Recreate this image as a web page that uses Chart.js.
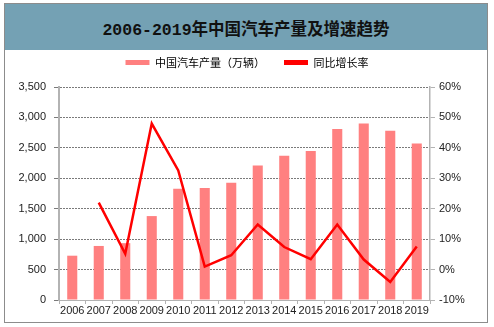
<!DOCTYPE html>
<html lang="zh">
<head>
<meta charset="UTF-8" />
<title>2006-2019年中国汽车产量及增速趋势</title>
<script src="https://cdn.jsdelivr.net/npm/chart.js"></script>
<style>
  html, body { margin: 0; padding: 0; background: #fff; }
  body { width: 494px; height: 327px; position: relative; overflow: hidden; }
  .frame {
    position: absolute; left: 4px; top: 3px; width: 482px; height: 318px;
    border: 1px solid #8c8c8c;
  }
  .header {
    position: absolute; left: 5px; top: 4px; width: 482px; height: 46px;
    background: #74a1b4;
    font: bold 16.5px "Liberation Mono", "Noto Sans CJK SC", sans-serif;
    color: #111; text-align: center; line-height: 54px;
  }
  #wrap { position: absolute; left: 0; top: 0; width: 494px; height: 327px; }
</style>
</head>
<body>
<div class="frame"></div>
<div class="header">2006-2019年中国汽车产量及增速趋势</div>
<div id="wrap"><canvas id="chart"></canvas></div>

<script>
  const years = ['2006','2007','2008','2009','2010','2011','2012','2013','2014','2015','2016','2017','2018','2019'];
  // 中国汽车产量（万辆）
  const output = [728, 888, 934, 1379, 1826, 1841, 1927, 2211, 2372, 2450, 2811, 2901, 2781, 2572];
  // 同比增长率 (%)
  const growth = [null, 22.0, 5.2, 48.0, 32.6, 1.0, 4.7, 14.8, 7.4, 3.4, 14.8, 3.3, -4.1, 7.6];

  const tickFont = { family: 'Arial, "Liberation Sans", sans-serif', size: 11 };
  const gridGray = '#7a7a7a';
  const axisGray = '#b3b3b3';

  // extra room under the legend
  const legendGap = {
    id: 'legendGap',
    beforeInit(chart) {
      const fit = chart.legend.fit;
      chart.legend.fit = function () {
        fit.call(this);
        this.height += 9;
      };
    }
  };

  new Chart(document.getElementById('chart'), {
    data: {
      labels: years,
      datasets: [
        {
          type: 'line',
          label: '同比增长率',
          data: growth,
          yAxisID: 'y1',
          borderColor: '#ff0000',
          backgroundColor: '#ff0000',
          borderWidth: 2.5,
          pointRadius: 0,
          tension: 0,
          order: 1
        },
        {
          type: 'bar',
          label: '中国汽车产量（万辆）',
          data: output,
          yAxisID: 'y',
          backgroundColor: '#ff8080',
          categoryPercentage: 0.38,
          barPercentage: 1,
          order: 2
        }
      ]
    },
    options: {
      responsive: true,
      maintainAspectRatio: false,
      animation: false,
      layout: { padding: { top: 38, left: 0, right: 0, bottom: 0 } },
      plugins: {
        tooltip: { enabled: false },
        legend: {
          position: 'top',
          labels: {
            color: '#595959',
            font: { family: '"Noto Sans CJK SC", sans-serif', size: 11 },
            boxWidth: 24,
            boxHeight: 5,
            padding: 19,
            generateLabels: chart => [
              { text: '中国汽车产量（万辆）', fillStyle: '#ff8080', strokeStyle: '#ff8080', lineWidth: 0, datasetIndex: 1 },
              { text: '同比增长率', fillStyle: '#ff0000', strokeStyle: '#ff0000', lineWidth: 0, datasetIndex: 0 }
            ]
          }
        }
      },
      scales: {
        x: {
          grid: { drawOnChartArea: false, drawTicks: true, tickLength: 4, color: axisGray, offset: true },
          border: { color: axisGray, width: 1 },
          ticks: { color: '#222', font: tickFont, padding: 0, maxRotation: 0, autoSkip: false },
          afterFit: s => { s.height = 27; }
        },
        y: {
          position: 'left',
          min: 0, max: 3500,
          grid: { color: gridGray, tickLength: 5 },
          border: { color: axisGray, width: 2, dash: [2, 1] },
          ticks: {
            stepSize: 500, color: '#222', font: tickFont, padding: 8,
            callback: v => v.toLocaleString('en-US')
          },
          afterFit: s => { s.width = 59; }
        },
        y1: {
          position: 'right',
          min: -10, max: 60,
          grid: { drawOnChartArea: false, color: axisGray, tickLength: 5 },
          border: { color: axisGray, width: 1.5 },
          ticks: {
            stepSize: 10, color: '#222', font: tickFont, padding: 4,
            callback: v => v + '%'
          },
          afterFit: s => { s.width = 64; }
        }
      }
    },
    plugins: [legendGap]
  });
</script>
</body>
</html>
